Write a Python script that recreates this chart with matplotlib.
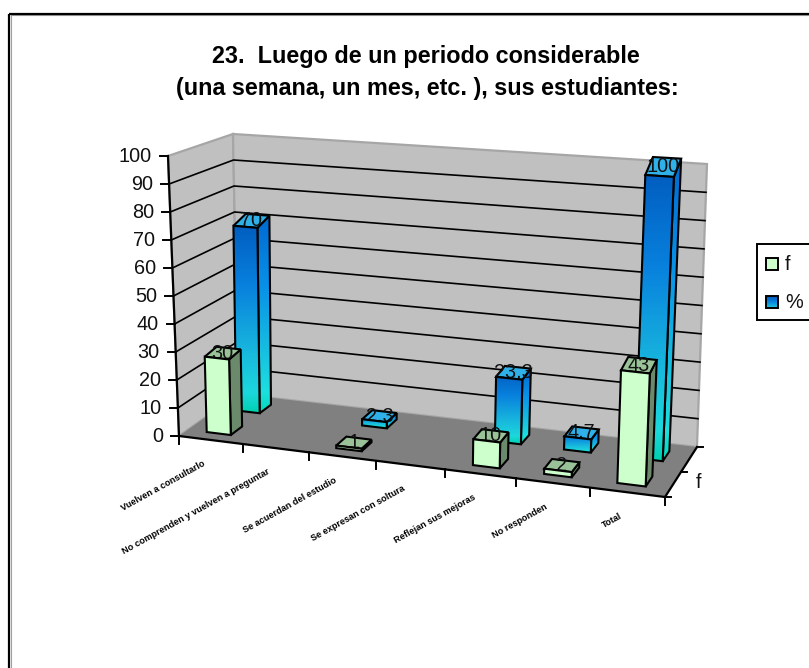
import numpy as np
import matplotlib
matplotlib.use("Agg")
import matplotlib.pyplot as plt
from matplotlib.colors import LinearSegmentedColormap
from matplotlib.patches import Polygon, Rectangle

plt.rcParams['font.family'] = ['Liberation Sans', 'DejaVu Sans']

title_lines = ["23.  Luego de un periodo considerable",
               "(una semana, un mes, etc. ), sus estudiantes:"]
categories = ["Vuelven a consultarlo",
              "No comprenden y vuelven a preguntar",
              "Se acuerdan del estudio",
              "Se expresan con soltura",
              "Reflejan sus mejoras",
              "No responden",
              "Total"]
series_f = [30, 0, 1, 0, 10, 2, 43]
series_pct = [70, 0, 2.3, 0, 23.3, 4.7, 100]
labels_f = ["30", "", "1", "", "10", "2", "43"]
labels_pct = ["70", "", "2.3", "", "23.3", "4.7", "100"]
y_ticks = list(range(0, 101, 10))

W, H = 809, 668
fig = plt.figure(figsize=(W / 100, H / 100), dpi=100)
ax = fig.add_axes([0, 0, 1, 1])
ax.set_axis_off()

# projected box corners: front-left, front-right, back-right, back-left
FLOOR = np.array([(179, 436), (665, 497), (697, 447), (238, 394)], float)
WALL_TOP = np.array([(168, 156), (677, 200), (707, 164), (233, 134)], float)
BAR_TOP = np.array([(171, 189), (675, 240), (710, 147), (235, 123)], float)
PERSPECTIVE = 1.1


def bilinear(q, c, d):
    u = c / len(categories)
    w = u / (u + PERSPECTIVE * (1 - u))
    front = q[0] + (q[1] - q[0]) * w
    back = q[3] + (q[2] - q[3]) * w
    return front + (back - front) * d


def proj(c, d, v=0, top=WALL_TOP):
    """c: category position 0..7, d: depth 0..1, v: value 0..100"""
    p0 = bilinear(FLOOR, c, d)
    p1 = bilinear(top, c, d)
    return tuple(p0 + (p1 - p0) * v / 100)


def poly(pts, fc, ec='black', lw=1.5, z=1):
    ax.add_patch(Polygon(pts, closed=True, facecolor=fc, edgecolor=ec, linewidth=lw,
                         joinstyle='miter', zorder=z))


poly([proj(0, 0, 0), proj(0, 1, 0), proj(0, 1, 100), proj(0, 0, 100)], '#C0C0C0', '#A6A6A6', 1.6, 1)
poly([proj(0, 1, 0), proj(7, 1, 0), proj(7, 1, 100), proj(0, 1, 100)], '#C0C0C0', '#A6A6A6', 1.6, 1)
poly([proj(0, 0, 0), proj(7, 0, 0), proj(7, 1, 0), proj(0, 1, 0)], '#808080', 'none', 0, 2)

for t in y_ticks[1:-1]:
    a, b, c = proj(0, 0, t), proj(0, 1, t), proj(7, 1, t)
    ax.plot([a[0], b[0], c[0]], [a[1], b[1], c[1]], color='black', lw=1.2, zorder=3, solid_joinstyle='miter')

# axes
a, b = proj(0, 0, 0), proj(0, 0, 100)
ax.plot([a[0], b[0]], [a[1], b[1]], color='black', lw=1.6, zorder=4)
for t in y_ticks:
    x, y = proj(0, 0, t)
    ax.plot([x - 8, x], [y, y], color='black', lw=1.4, zorder=4)
    ax.text(x - 16, y, str(t), ha='right', va='center', fontsize=14.3, color='#111111', zorder=5)

a, b = proj(0, 0), proj(7, 0)
ax.plot([a[0], b[0]], [a[1], b[1]], color='black', lw=1.6, zorder=4)
for i in range(len(categories) + 1):
    x, y = proj(i, 0)
    ax.plot([x, x], [y, y + 8], color='black', lw=1.4, zorder=4)
a, b = proj(7, 0), proj(7, 1)
ax.plot([a[0], b[0]], [a[1], b[1]], color='black', lw=1.6, zorder=4)
for d in (0, 0.5, 1):
    x, y = proj(7, d)
    ax.plot([x, x + 6], [y, y], color='black', lw=1.4, zorder=4)
x, y = proj(7, 0.5)
ax.text(x + 18, y + 11, "f", ha='center', va='center', fontsize=14.3, color='#111111', zorder=5)

# category labels
for i, name in enumerate(categories):
    x, y = proj(i + 0.5, 0)
    ax.text(x - 6, y + 23, name, ha='right', va='center', rotation=29, rotation_mode='anchor',
            fontsize=6.6, fontweight='bold', color='black', zorder=5)

cmap = LinearSegmentedColormap.from_list('blue', [(0, '#0058BB'), (0.35, '#0880DD'), (0.7, '#18B8DD'),
                                                  (0.9, '#1CD8DC'), (1, '#00D0B0')])
cmap_side = LinearSegmentedColormap.from_list('blue2', [(0, '#0068D0'), (0.35, '#0890E8'), (0.7, '#18C0E0'),
                                                        (0.9, '#1CE0E0'), (1, '#00D8B8')])


def grad_face(pts, cm, ybounds, z):
    g = np.linspace(0, 1, 128).reshape(-1, 1)
    xs = [p[0] for p in pts]
    im = ax.imshow(g, cmap=cm, extent=(min(xs) - 1, max(xs) + 1, ybounds[1], ybounds[0]),
                   aspect='auto', zorder=z, interpolation='bilinear')
    clip = Polygon(pts, closed=True, transform=ax.transData)
    im.set_clip_path(clip)
    ax.add_patch(Polygon(pts, closed=True, fill=False, edgecolor='black', linewidth=1.5, zorder=z + 0.01))


BAR_SPAN = (0.30, 0.68)
DEPTHS = [(0.15, 0.35), (0.66, 0.86)]


def draw_bar(i, series, value, label, z):
    x0 = i + BAR_SPAN[0]
    x1 = i + BAR_SPAN[1]
    d0, d1 = DEPTHS[series]
    fb0, fb1, bb1, bb0 = proj(x0, d0), proj(x1, d0), proj(x1, d1), proj(x0, d1)
    ft0, ft1, bt1, bt0 = (proj(x0, d0, value, BAR_TOP), proj(x1, d0, value, BAR_TOP),
                          proj(x1, d1, value, BAR_TOP), proj(x0, d1, value, BAR_TOP))
    cx, cy = proj(i + sum(BAR_SPAN) / 2, (d0 + d1) / 2, value, BAR_TOP)
    front = [fb0, fb1, ft1, ft0]
    side = [fb1, bb1, bt1, ft1]
    top = [ft0, ft1, bt1, bt0]
    if series == 0:
        poly(side, '#6B8A6B', z=z + 0.1)
        poly(top, '#99C299', z=z + 0.2)
        poly(front, '#CCFFCC', z=z + 0.3)
    else:
        ylo = min(p[1] for p in front + side)
        yhi = max(p[1] for p in front + side)
        grad_face(side, cmap_side, (ylo, yhi), z + 0.1)
        poly(top, '#30B0E8', z=z + 0.2)
        grad_face(front, cmap, (ylo, yhi), z + 0.3)
    ax.text(cx, cy, label, ha='center', va='center', fontsize=14.3, color='#111111', zorder=z + 0.25)


for i in range(len(categories)):
    if series_pct[i] > 0:
        draw_bar(i, 1, series_pct[i], labels_pct[i], 10 + i)
for i in range(len(categories)):
    if series_f[i] > 0:
        draw_bar(i, 0, series_f[i], labels_f[i], 20 + i)

# title
ax.text(426, 57, title_lines[0], ha='center', va='center', fontsize=16.8, fontweight='bold', zorder=30)
ax.text(427, 88, title_lines[1], ha='center', va='center', fontsize=16.8, fontweight='bold', zorder=30)

# legend
ax.add_patch(Rectangle((757, 244), 70, 76, fc='white', ec='black', lw=1.4, zorder=30))
ax.add_patch(Rectangle((766, 258), 12, 12, fc='#CCFFCC', ec='black', lw=1.4, zorder=31))
g = np.linspace(0, 0.8, 32).reshape(-1, 1)
ax.imshow(g, cmap=cmap, vmin=0, vmax=1, extent=(766, 778, 308, 296), aspect='auto', zorder=31)
ax.add_patch(Rectangle((766, 296), 12, 12, fill=False, ec='black', lw=1.4, zorder=32))
ax.text(785, 264, "f", ha='left', va='center', fontsize=14.3, color='#111111', zorder=31)
ax.text(785, 302, "%", ha='left', va='center', fontsize=14.3, color='#111111', zorder=31)

# outer frame
ax.add_patch(Rectangle((11, 15), 820, 680, fill=False, ec='#A0A0A0', lw=0.8, zorder=39))
ax.add_patch(Rectangle((9.5, 13.5), 820, 680, fill=False, ec='black', lw=1.6, zorder=40))

ax.set_xlim(0, W)
ax.set_ylim(H, 0)
fig.savefig("out.png", dpi=100)
